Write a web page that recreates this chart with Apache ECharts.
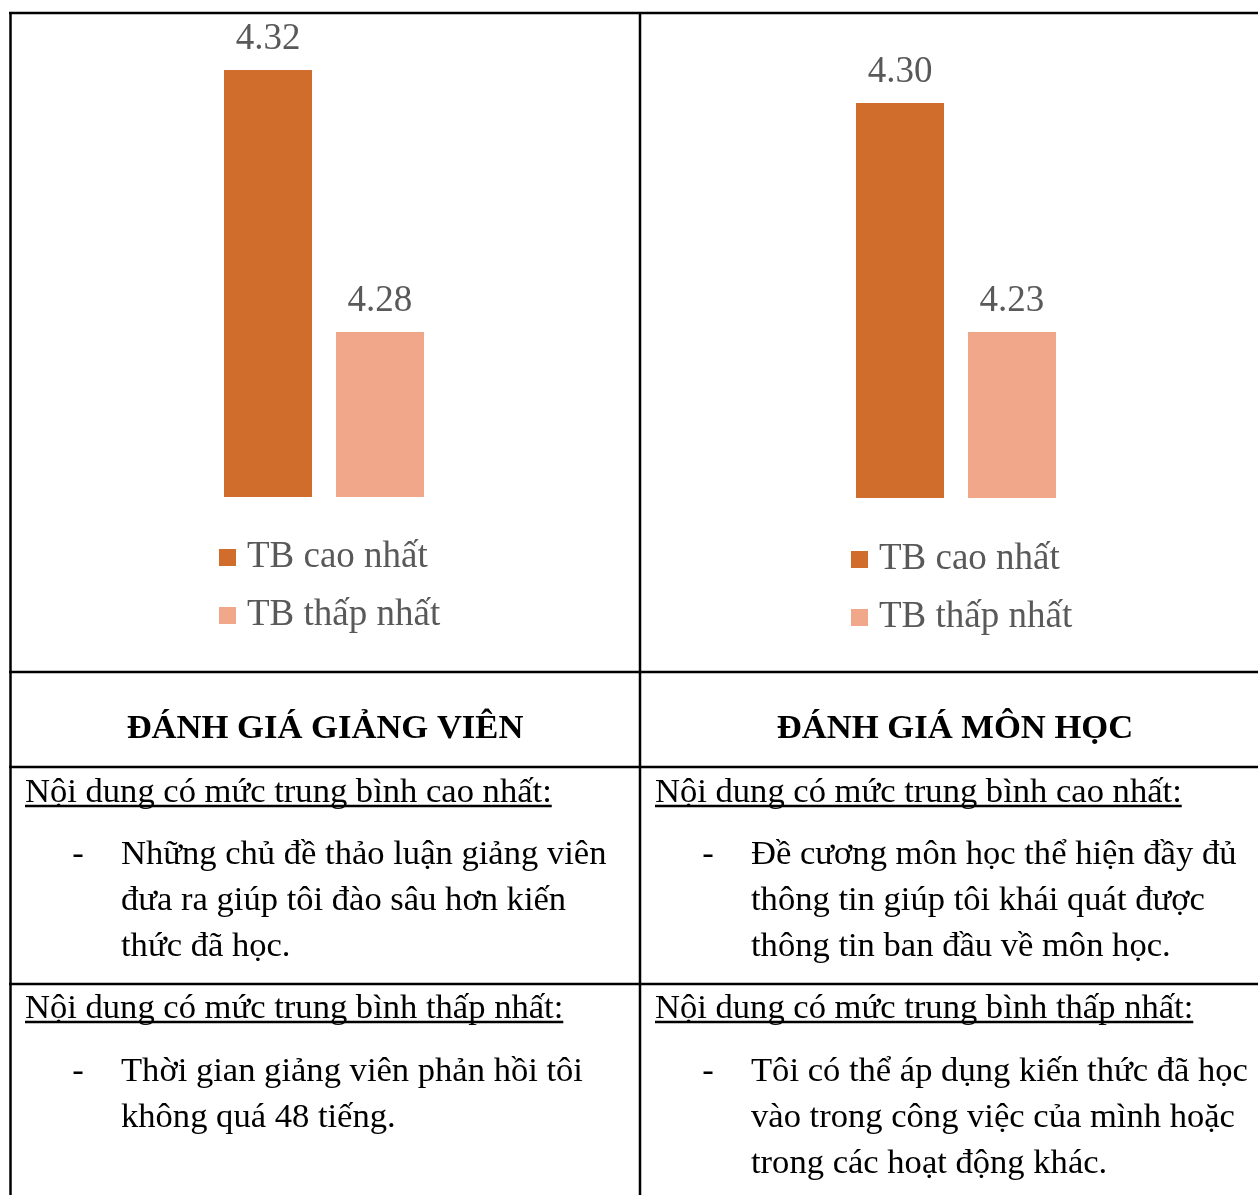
<!DOCTYPE html>
<html>
<head>
<meta charset="utf-8">
<script src="https://cdn.jsdelivr.net/npm/echarts@6/dist/echarts.min.js"></script>
<style>
html,body{margin:0;padding:0;background:#fff;}
#c{width:1258px;height:1195px;}
</style>
</head>
<body>
<div id="c"></div>
<script>
// ---- data ----
const panels = ['ĐÁNH GIÁ GIẢNG VIÊN', 'ĐÁNH GIÁ MÔN HỌC'];
const seriesNames = ['TB cao nhất', 'TB thấp nhất'];
const highValues = [4.32, 4.30];
const lowValues = [4.28, 4.23];
const axisMin = [4.2548, 4.1792];
const axisMax = [4.32, 4.30];
const highHeading = 'Nội dung có mức trung bình cao nhất:';
const lowHeading = 'Nội dung có mức trung bình thấp nhất:';
const highTopics = [
  ['Những chủ đề thảo luận giảng viên', 'đưa ra giúp tôi đào sâu hơn kiến', 'thức đã học.'],
  ['Đề cương môn học thể hiện đầy đủ', 'thông tin giúp tôi khái quát được', 'thông tin ban đầu về môn học.']
];
const lowTopics = [
  ['Thời gian giảng viên phản hồi tôi', 'không quá 48 tiếng.'],
  ['Tôi có thể áp dụng kiến thức đã học', 'vào trong công việc của mình hoặc', 'trong các hoạt động khác.']
];

// ---- styling / layout ----
const FONT = "'Liberation Serif', 'Times New Roman', serif";
const colors = ['#D06D2C', '#F1A88A'];
const chartGray = '#595959';
const gridLeft = [124, 756];
const gridTop = [70, 103];
const gridBottomY = [497, 498];
const legendLeft = [219, 851];
const legendTop = [539, 541];
const colX = [25, 655];
const dashX = [78, 708];
const textX = [121, 751];
const headCX = [325, 955];
const BODY = 34.6;

const mctx = document.createElement('canvas').getContext('2d');
mctx.font = BODY + 'px ' + FONT;
function tw(s) { return mctx.measureText(s).width; }

const chart = echarts.init(document.getElementById('c'), null, {renderer: 'canvas'});

const grid = [], xAxis = [], yAxis = [], series = [], legend = [];
for (let i = 0; i < 2; i++) {
  grid.push({left: gridLeft[i], width: 400, top: gridTop[i], height: gridBottomY[i] - gridTop[i]});
  xAxis.push({type: 'category', gridIndex: i, data: [panels[i]], show: false});
  yAxis.push({type: 'value', gridIndex: i, min: axisMin[i], max: axisMax[i], show: false, splitLine: {show: false}});
  [highValues, lowValues].forEach((vals, k) => {
    series.push({
      type: 'bar', name: seriesNames[k], xAxisIndex: i, yAxisIndex: i,
      data: [vals[i]], barWidth: 88, barGap: '27.27%',
      itemStyle: {color: colors[k]},
      label: {show: true, position: 'top', distance: 12,
        formatter: p => p.value.toFixed(2),
        fontFamily: FONT, fontSize: 37, color: chartGray},
      emphasis: {disabled: true}
    });
  });
  legend.push({
    orient: 'vertical', left: legendLeft[i], top: legendTop[i], padding: 0,
    itemWidth: 17, itemHeight: 17, itemGap: 21, icon: 'rect',
    data: seriesNames.slice(),
    selectedMode: false,
    textStyle: {fontFamily: FONT, fontSize: 37, color: chartGray, padding: [0, 0, 0, 6]}
  });
}

const graphic = [];
function line(x1, y1, x2, y2) {
  graphic.push({type: 'line', shape: {x1, y1, x2, y2}, style: {stroke: '#000', lineWidth: 2.5}, silent: true});
}
function text(s, x, y, opts) {
  opts = opts || {};
  graphic.push({type: 'text', x: x, y: y, silent: true, style: {
    text: s, fill: '#000',
    font: (opts.bold ? 'bold ' : '') + BODY + 'px ' + FONT,
    textAlign: opts.align || 'left', textVerticalAlign: 'middle',
    align: opts.align || 'left', verticalAlign: 'middle'
  }});
}
// table lines
line(10.5, 12, 10.5, 1195);
line(640, 12, 640, 1195);
line(9, 13, 1258, 13);
[672, 767, 984].forEach(y => line(9, y, 1258, y));

const lineH = 46;
for (let i = 0; i < 2; i++) {
  text(panels[i], headCX[i], 729, {bold: true, align: 'center'});
  text(highHeading, colX[i], 793);
  line(colX[i], 806, colX[i] + tw(highHeading), 806);
  text('-', dashX[i], 855, {align: 'center'});
  highTopics[i].forEach((s, j) => text(s, textX[i], 855 + j * lineH));
  text(lowHeading, colX[i], 1009);
  line(colX[i], 1022, colX[i] + tw(lowHeading), 1022);
  text('-', dashX[i], 1072, {align: 'center'});
  lowTopics[i].forEach((s, j) => text(s, textX[i], 1072 + j * lineH));
}

chart.setOption({
  animation: false,
  backgroundColor: '#fff',
  grid, xAxis, yAxis, series, legend, graphic
});
</script>
</body>
</html>
